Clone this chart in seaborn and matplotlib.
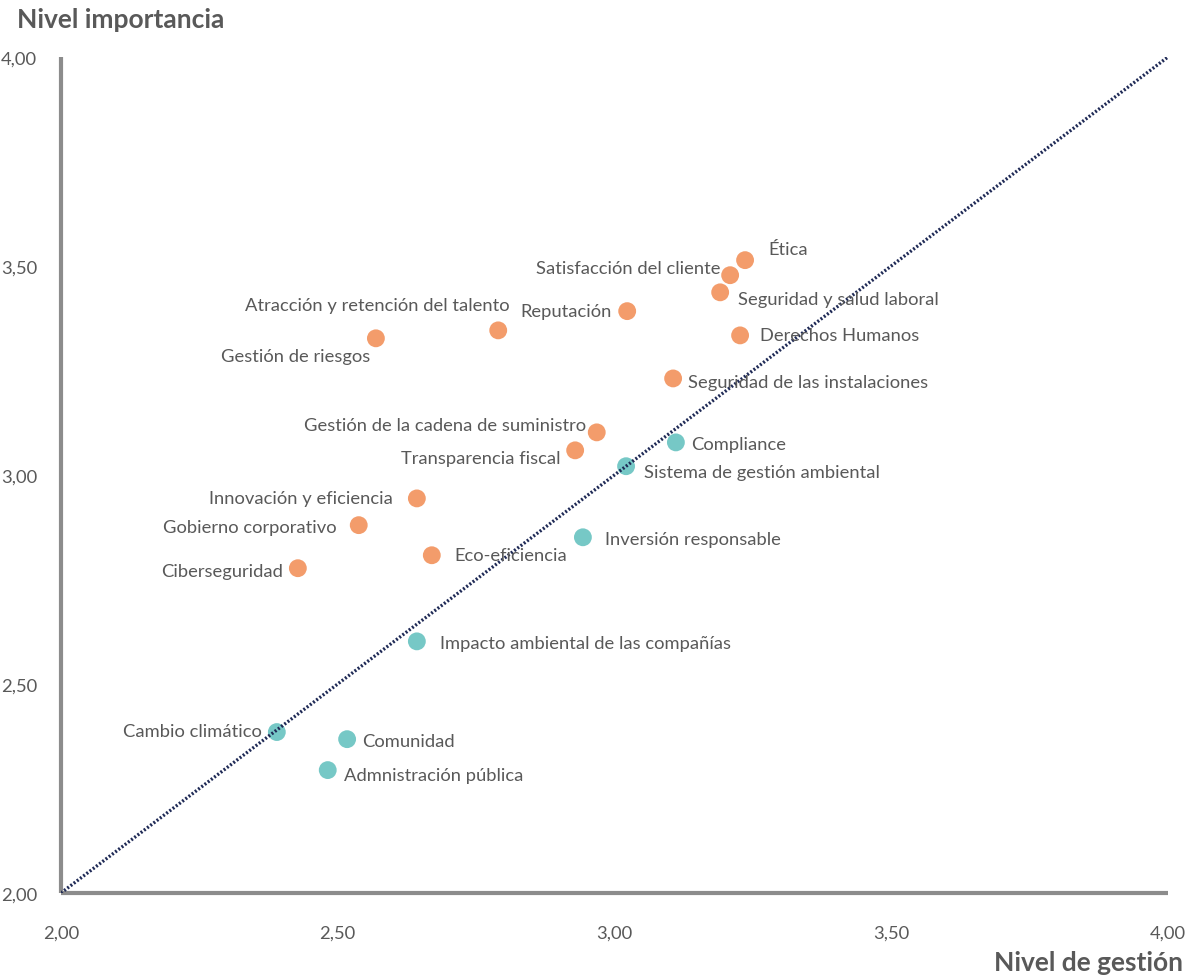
import matplotlib
matplotlib.use("Agg")
import matplotlib.pyplot as plt
import seaborn as sns
import pandas as pd
from matplotlib.ticker import FixedLocator, FuncFormatter

# Materiality topics: management level (x) vs importance level (y)
topics = [
    "Ética", "Satisfacción del cliente", "Seguridad y salud laboral", "Reputación",
    "Atracción y retención del talento", "Gestión de riesgos", "Derechos Humanos",
    "Seguridad de las instalaciones", "Gestión de la cadena de suministro",
    "Transparencia fiscal", "Compliance", "Sistema de gestión ambiental",
    "Innovación y eficiencia", "Gobierno corporativo", "Inversión responsable",
    "Eco-eficiencia", "Ciberseguridad", "Impacto ambiental de las compañías",
    "Cambio climático", "Comunidad", "Admnistración pública",
]
gestion = [3.236, 3.209, 3.191, 3.023, 2.790, 2.569, 3.227, 3.106, 2.968, 2.929,
           3.111, 3.021, 2.643, 2.538, 2.943, 2.670, 2.428, 2.643, 2.390, 2.517, 2.482]
importancia = [3.514, 3.478, 3.437, 3.392, 3.346, 3.327, 3.334, 3.231, 3.102, 3.059,
               3.078, 3.021, 2.944, 2.880, 2.851, 2.808, 2.777, 2.602, 2.385, 2.368, 2.294]
grupo = ["A", "A", "A", "A", "A", "A", "A", "A", "A", "A",
         "B", "B", "A", "A", "B", "A", "A", "B", "B", "B", "B"]

tick_values = [2.0, 2.5, 3.0, 3.5, 4.0]

# label placement: (dx, dy) in pixels, horizontal alignment
label_pos = {
    "Ética": (23, 11, "left"),
    "Satisfacción del cliente": (-10, 7, "right"),
    "Seguridad y salud laboral": (18, -7, "left"),
    "Reputación": (-15, 0, "right"),
    "Atracción y retención del talento": (11, 25, "right"),
    "Gestión de riesgos": (-6, -18, "right"),
    "Derechos Humanos": (20, 0, "left"),
    "Seguridad de las instalaciones": (15, -4, "left"),
    "Gestión de la cadena de suministro": (-11, 7, "right"),
    "Transparencia fiscal": (-15, -8, "right"),
    "Compliance": (15, -2, "left"),
    "Sistema de gestión ambiental": (18, -6, "left"),
    "Innovación y eficiencia": (-24, 0, "right"),
    "Gobierno corporativo": (-22, -2, "right"),
    "Inversión responsable": (22, -2, "left"),
    "Eco-eficiencia": (23, 0, "left"),
    "Ciberseguridad": (-15, -3, "right"),
    "Impacto ambiental de las compañías": (23, -2, "left"),
    "Cambio climático": (-15, 1, "right"),
    "Comunidad": (15, -2, "left"),
    "Admnistración pública": (16, -5, "left"),
}

df = pd.DataFrame({"tema": topics, "gestion": gestion,
                   "importancia": importancia, "grupo": grupo})

sns.set_theme(style="white")
plt.rcParams["font.family"] = ["Lato", "DejaVu Sans"]

text_color = "#595959"
spine_color = "#8c8c8c"

fig = plt.figure(figsize=(11.93, 9.78), dpi=100)
ax = fig.add_axes([0.0511, 0.0859, 0.9279, 0.8548])

sns.scatterplot(data=df, x="gestion", y="importancia", hue="grupo",
                palette={"A": "#f39c6b", "B": "#76c8c6"}, s=165,
                linewidth=0, legend=False, ax=ax, zorder=2)

# diagonal reference line
ax.plot([2, 4], [2, 4], color="#1f2a56", linestyle=(0, (0.6, 0.6)),
        linewidth=2.4, zorder=3)

for t, x, y in zip(topics, gestion, importancia):
    dx, dy, ha = label_pos[t]
    ax.annotate(t, (x, y), xytext=(dx, dy), textcoords="offset pixels",
                ha=ha, va="center", fontsize=13.2, color=text_color, zorder=4)

ax.set_xlim(2, 4)
ax.set_ylim(2, 4)
ax.xaxis.set_major_locator(FixedLocator(tick_values))
ax.yaxis.set_major_locator(FixedLocator(tick_values))
fmt = FuncFormatter(lambda v, p: f"{v:.2f}".replace(".", ","))
ax.xaxis.set_major_formatter(fmt)
ax.yaxis.set_major_formatter(fmt)

for side in ["top", "right"]:
    ax.spines[side].set_visible(False)
for side in ["left", "bottom"]:
    ax.spines[side].set_color(spine_color)
    ax.spines[side].set_linewidth(3)
    ax.spines[side].set_capstyle("butt")

ax.tick_params(axis="both", which="major", direction="out", length=11,
               width=3, color=spine_color, labelcolor=text_color,
               labelsize=13.2, pad=6)
ax.tick_params(axis="x", pad=12)
ax.set_xlabel("")
ax.set_ylabel("")

fig.text(17 / 1193, 1 - 20 / 978, "Nivel importancia", fontsize=19,
         fontweight="bold", color=text_color, ha="left", va="center")
fig.text(1183 / 1193, 1 - 963 / 978, "Nivel de gestión", fontsize=19,
         fontweight="bold", color=text_color, ha="right", va="center")

fig.savefig("out.png", dpi=100)
